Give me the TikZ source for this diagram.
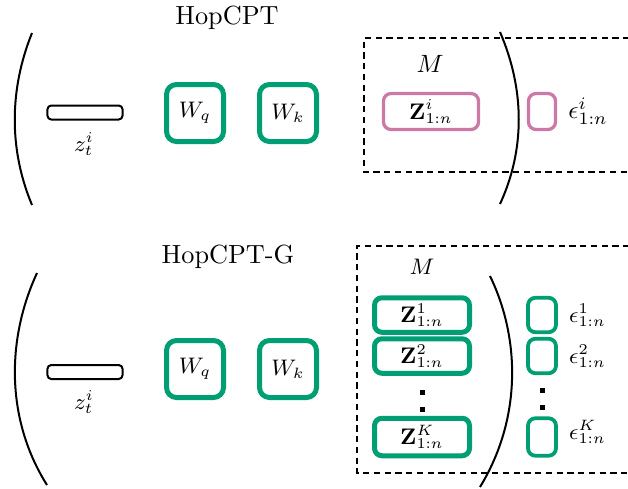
\documentclass[tikz,border=0pt]{standalone}
\usepackage{tikz}
\usetikzlibrary{shapes, positioning}
\usepackage{amsmath}
\definecolor{okgreen}{RGB}{0,158,115}
\definecolor{okpink}{RGB}{204,121,167}

\begin{document}
\begin{tikzpicture}[x=0.4pt,y=-0.4pt]
\tikzstyle{inbox} = [draw, rounded corners=1.5pt, line width=0.8pt, minimum width=30pt, minimum height=5.6pt, inner sep=0pt]
\tikzstyle{weight} = [draw=okgreen, rounded corners=4pt, line width=2pt, minimum size=22.8pt, inner sep=0pt, font=\small]
\tikzstyle{memrow} = [rounded corners=3pt, minimum width=38pt, minimum height=13.8pt, inner sep=0pt, font=\small]
\tikzstyle{errbox} = [rounded corners=3pt, minimum width=11.2pt, minimum height=13.8pt, inner sep=0pt]
\tikzstyle{paren} = [line width=0.8pt]
\tikzstyle{memframe} = [line width=0.6pt, dash pattern=on 2.5pt off 1.8pt]
\useasboundingbox (0,0) rectangle (628,488);

% HopCPT
\node [font=\fontsize{10.5}{12}\selectfont] (titleA) at (227,18) {HopCPT};
\draw [paren] (32,33) .. controls (9,90) and (9,150) .. (32,205);
\node [inbox] (zA) at (85,112.5) {};
\node [font=\small] (zlabA) at (84,144) {$z_t^i$};
\node [weight] (wqA) at (195,113) {$W_q$};
\node [weight] (wkA) at (288,113) {$W_k$};
\draw [memframe] (640,38) -- (364,38) -- (364,172) -- (640,172);
\node (memA) at (430,64) {$M$};
\node [memrow, draw=okpink, line width=1.3pt, minimum height=14.4pt] (zmemA) at (431,111.5) {$\mathbf{Z}^i_{1:n}$};
\draw [paren] (500,32) .. controls (525,90) and (525,150) .. (500,204);
\node [errbox, draw=okpink, line width=1.3pt, minimum width=10.8pt, minimum height=14.4pt] (epsA) at (542,111.5) {};
\node [right=1pt of epsA] (epslabA) {$\epsilon^i_{1:n}$};

% HopCPT-G
\node [font=\fontsize{10.5}{12}\selectfont] (titleB) at (228,257) {HopCPT-G};
\draw [paren] (37,273) .. controls (6,340) and (6,420) .. (47,485);
\node [inbox] (zB) at (85,372) {};
\node [font=\small] (zlabB) at (84,402) {$z_t^i$};
\node [weight] (wqB) at (195,369) {$W_q$};
\node [weight] (wkB) at (288,369) {$W_k$};
\draw [memframe] (640,246) -- (357,246) -- (357,473) -- (640,473);
\node [font=\small] (memB) at (422,267) {$M$};
\node [memrow, draw=okgreen, line width=2pt] (zone) at (422,315) {$\mathbf{Z}^1_{1:n}$};
\node [memrow, draw=okgreen, line width=2pt] (ztwo) at (422,356) {$\mathbf{Z}^2_{1:n}$};
\node [memrow, draw=okgreen, line width=2pt, minimum height=15pt] (zK) at (422,437) {$\mathbf{Z}^K_{1:n}$};
\fill (419.5,389.5) rectangle ++(5,5);
\fill (419.5,406.5) rectangle ++(5,5);
\draw [paren] (490,276) .. controls (521,340) and (521,420) .. (480,487);
\node [errbox, draw=okgreen, line width=1.5pt] (epsone) at (542,315) {};
\node [errbox, draw=okgreen, line width=1.5pt] (epstwo) at (542,356) {};
\node [errbox, draw=okgreen, line width=1.5pt, minimum height=15pt] (epsK) at (542,437) {};
\fill (540,387.5) rectangle ++(5,5);
\fill (540,404.5) rectangle ++(5,5);
\node [font=\small, right=1pt of epsone] (epslabone) {$\epsilon^1_{1:n}$};
\node [font=\small, right=1pt of epstwo] (epslabtwo) {$\epsilon^2_{1:n}$};
\node [font=\small, right=1pt of epsK, yshift=2pt] (epslabK) {$\epsilon^K_{1:n}$};
\end{tikzpicture}
\end{document}
